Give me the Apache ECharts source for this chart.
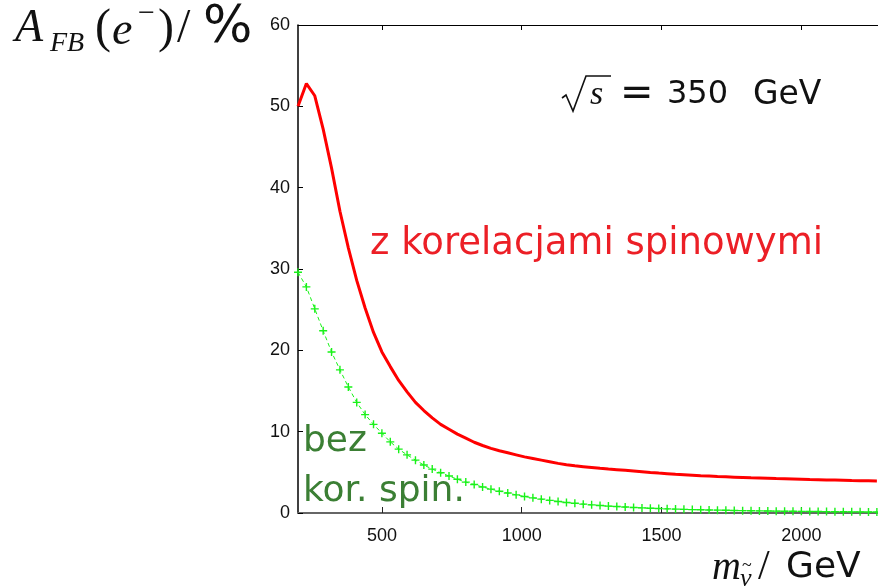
<!DOCTYPE html>
<html>
<head>
<meta charset="utf-8">
<script src="https://cdn.jsdelivr.net/npm/echarts@6/dist/echarts.min.js"></script>
<style>
  html, body { margin: 0; padding: 0; background: #fff; }
  #chart { width: 878px; height: 586px; }
</style>
</head>
<body>
<div id="chart"></div>
<script>
// sneutrino mass / GeV, one sample every 30 GeV
const masses = [
  200, 230, 260, 290, 320, 350, 380, 410, 440, 470,
  500, 530, 560, 590, 620, 650, 680, 710, 740, 770,
  800, 830, 860, 890, 920, 950, 980, 1010, 1040, 1070,
  1100, 1130, 1160, 1190, 1220, 1250, 1280, 1310, 1340, 1370,
  1400, 1430, 1460, 1490, 1520, 1550, 1580, 1610, 1640, 1670,
  1700, 1730, 1760, 1790, 1820, 1850, 1880, 1910, 1940, 1970,
  2000, 2030, 2060, 2090, 2120, 2150, 2180, 2210, 2240, 2270
]

// A_FB in %, with spin correlations (red)
const withSpin = [
  50.0, 52.8, 51.3, 47.2, 42.4, 37.1, 32.6, 28.6, 25.2, 22.2,
  19.8, 18.0, 16.3, 14.9, 13.6, 12.6, 11.7, 10.9, 10.3, 9.7,
  9.2, 8.7, 8.3, 7.95, 7.65, 7.4, 7.15, 6.9, 6.7, 6.5,
  6.3, 6.1, 5.93, 5.8, 5.7, 5.6, 5.5, 5.41, 5.33, 5.25,
  5.17, 5.08, 4.99, 4.91, 4.84, 4.77, 4.71, 4.65, 4.59, 4.54,
  4.49, 4.45, 4.41, 4.37, 4.33, 4.3, 4.27, 4.24, 4.21, 4.18,
  4.15, 4.12, 4.1, 4.07, 4.05, 4.03, 4.0, 3.98, 3.96, 3.94
]

// A_FB in %, without spin correlations (green)
const withoutSpin = [
  29.6, 27.8, 25.1, 22.4, 19.8, 17.6, 15.5, 13.6, 12.1, 10.9,
  9.8, 8.75, 7.85, 7.15, 6.5, 5.9, 5.4, 4.95, 4.55, 4.15,
  3.8, 3.5, 3.2, 2.93, 2.68, 2.45, 2.23, 2.03, 1.86, 1.7,
  1.55, 1.42, 1.3, 1.19, 1.09, 1.0, 0.92, 0.85, 0.79, 0.73,
  0.68, 0.63, 0.59, 0.55, 0.51, 0.48, 0.45, 0.42, 0.4, 0.37,
  0.35, 0.33, 0.31, 0.29, 0.28, 0.26, 0.25, 0.23, 0.22, 0.21,
  0.2, 0.19, 0.18, 0.17, 0.16, 0.15, 0.14, 0.14, 0.13, 0.12
]

const xTicks = [500, 1000, 1500, 2000]

const chart = echarts.init(document.getElementById('chart'), null, { renderer: 'canvas' })

const plus = 'path://M3.3,0H4.7V3.3H8V4.7H4.7V8H3.3V4.7H0V3.3H3.3Z'
const serif = '"Liberation Serif", "DejaVu Serif", serif'
const sans = '"DejaVu Sans", sans-serif'
const tickFont = '"Liberation Sans", Arial, sans-serif'

function txt(x, y, text, font, fill) {
  return {
    type: 'text',
    x: x,
    y: y,
    z: 10,
    style: {
      text: text,
      font: font,
      fill: fill || '#111',
      textAlign: 'left',
      textVerticalAlign: 'middle',
      verticalAlign: 'middle',
    },
  }
}

const options = {
  animation: false,
  backgroundColor: '#fff',
  grid: {
    left: 298,
    top: 25,
    bottom: 73,
    right: 0,
  },
  xAxis: [
    {
      type: 'value',
      min: 200,
      max: 2274,
      axisLine: { show: true, onZero: false, lineStyle: { color: '#666', width: 2 } },
      axisTick: {
        show: true,
        inside: true,
        length: 6,
        customValues: xTicks,
        lineStyle: { color: '#222', width: 1 },
      },
      axisLabel: {
        customValues: xTicks,
        formatter: (v) => String(v),
        margin: 14,
        color: '#111',
        fontSize: 18,
        fontFamily: tickFont,
      },
      splitLine: { show: false },
    },
    {
      type: 'value',
      position: 'top',
      min: 200,
      max: 2274,
      axisLine: { show: true, onZero: false, lineStyle: { color: '#000', width: 1 } },
      axisTick: {
        show: true,
        inside: true,
        length: 5,
        customValues: xTicks,
        lineStyle: { color: '#000', width: 1 },
      },
      axisLabel: { show: false },
      splitLine: { show: false },
    },
  ],
  yAxis: {
    type: 'value',
    min: 0,
    max: 60,
    interval: 10,
    axisLine: { show: true, onZero: false, lineStyle: { color: '#000', width: 1.5 } },
    axisTick: { show: true, inside: true, length: 5, lineStyle: { color: '#000', width: 1 } },
    axisLabel: {
      margin: 8,
      color: '#111',
      fontSize: 18,
      fontFamily: tickFont,
    },
    splitLine: { show: false },
  },
  series: [
    {
      name: 'z korelacjami spinowymi',
      type: 'line',
      data: masses.map((m, i) => [m, withSpin[i]]),
      showSymbol: false,
      symbol: 'none',
      lineStyle: { color: '#ff0000', width: 3 },
      z: 3,
    },
    {
      name: 'bez kor. spin.',
      type: 'line',
      data: masses.map((m, i) => [m, withoutSpin[i]]),
      symbol: plus,
      symbolSize: 8,
      showAllSymbol: true,
      itemStyle: { color: '#19f219' },
      lineStyle: { color: '#19f219', width: 1, type: [4, 3] },
      z: 2,
    },
  ],
  graphic: [
    // y axis title  A_FB(e-)/%
    txt(15, 29, 'A', 'italic 46px ' + serif),
    txt(50, 44, 'FB', 'italic 28px ' + serif),
    txt(95, 29, '(', '48px ' + serif),
    txt(112, 32, 'e', 'italic 46px ' + serif),
    txt(138, 14, '\u2212', '30px ' + serif),
    txt(158, 29, ')', '48px ' + serif),
    txt(177, 29, '/', '48px ' + serif),
    txt(203, 28, '%', '52px ' + sans),
    // sqrt(s) = 350 GeV
    {
      type: 'polyline',
      z: 10,
      shape: { points: [[562, 98], [566, 95], [573, 111], [586, 76], [611, 76]] },
      style: { stroke: '#111', lineWidth: 1.6, fill: null },
    },
    txt(590, 95, 's', 'italic 34px ' + serif),
    txt(620, 95, '=', '40px ' + sans),
    txt(667, 95, '350', '32px ' + sans),
    txt(753, 95, 'GeV', '33px ' + sans),
    // labels for the curves
    txt(370, 244, 'z korelacjami spinowymi', '37px ' + sans, '#ec1f26'),
    txt(303, 442, 'bez', '36px ' + sans, '#3b7f34'),
    txt(303, 492, 'kor. spin.', '36px ' + sans, '#3b7f34'),
    // x axis title  m_nu~/GeV
    txt(712, 568, 'm', 'italic 40px ' + serif),
    txt(740, 579, '\u03bd', 'italic 26px ' + serif),
    txt(742, 566, '~', '18px ' + serif),
    txt(758, 568, '/', '42px ' + serif),
    txt(786, 568, 'GeV', '36px ' + sans),
  ],
}

chart.setOption(options)
</script>
</body>
</html>
